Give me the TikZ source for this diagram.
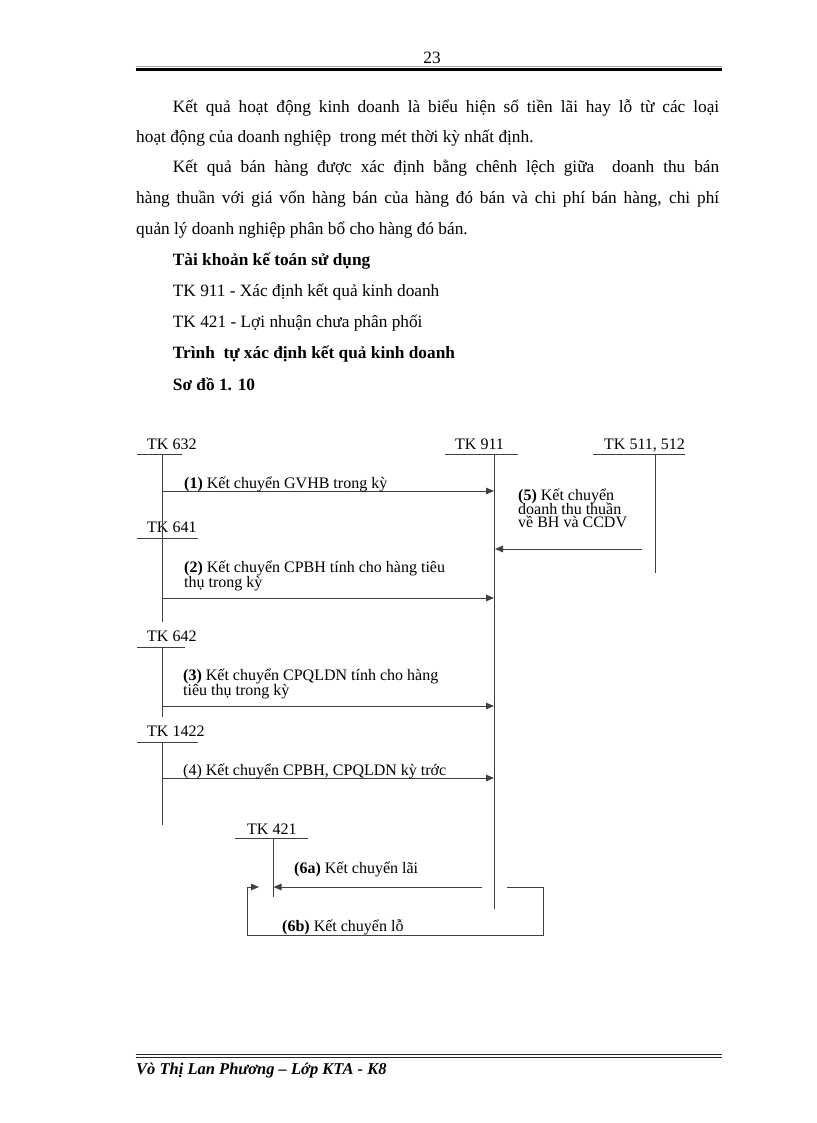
\documentclass[tikz,border=0pt]{standalone}
\usepackage{fontspec}
\setmainfont{Liberation Serif}
\usetikzlibrary{arrows.meta}
\begin{document}
\begin{tikzpicture}[x=1pt,y=-1pt,
  body/.style={anchor=base west, inner sep=0pt, font=\fontsize{17.3}{20}\selectfont},
  lab/.style={anchor=base west, inner sep=0pt, font=\fontsize{16}{18}\selectfont},
  acct/.style={line width=1pt, draw=black!75},
  arr/.style={line width=0.9pt, draw=black!75, -{Triangle[length=8pt,width=6.5pt]}},
]
\fill[white] (0,0) rectangle (816,1123);
\useasboundingbox (0,0) rectangle (816,1123);

% header
\node[anchor=base, inner sep=0pt, font=\fontsize{17.3}{20}\selectfont] (pg) at (432,63.5) {23};
\coordinate (hrl) at (135.5,69.3);
\coordinate (hrr) at (721.7,69.3);
\coordinate (hgl) at (135.5,66.6);
\coordinate (hgr) at (721.7,66.6);
\draw[black!35, line width=0.5pt] (hgl) -- (hgr);
\draw[line width=2.6pt] (hrl) -- (hrr);

% body text
\node[body] (p1) at (172.7,113) {\makebox[546.3pt][s]{Kết quả hoạt động kinh doanh là biểu hiện số tiền lãi hay lỗ từ các loại}};
\node[body] (p2) at (136,142.5) {hoạt động của doanh nghiệp\ \ trong mét thời kỳ nhất định.};
\node[body] (p3) at (172.7,173) {\makebox[546.3pt][s]{Kết quả bán hàng được xác định bằng chênh lệch giữa\ \ doanh thu bán}};
\node[body] (p4) at (136,204) {\makebox[583pt][s]{hàng thuần với giá vốn hàng bán của hàng đó bán và chi phí bán hàng, chi phí}};
\node[body] (p5) at (136,234.5) {quản lý doanh nghiệp phân bổ cho hàng đó bán.};
\node[body] (p6) at (172.7,265) {\bfseries Tài khoản kế toán sử dụng};
\node[body] (p7) at (172.7,296.5) {TK 911 - Xác định kết quả kinh doanh};
\node[body] (p8) at (172.7,327.5) {TK 421 - Lợi nhuận chưa phân phối};
\node[body] (p9) at (172.7,358.5) {\bfseries Trình\ \ tự xác định kết quả kinh doanh};
\node[body] (p10) at (172.7,390) {\bfseries Sơ đồ 1. 10};

% account labels
\node[lab] (tk632) at (147,449) {TK 632};
\node[lab] (tk641) at (147,532.7) {TK 641};
\node[lab] (tk642) at (147,641.7) {TK 642};
\node[lab] (tk1422) at (147,736.7) {TK 1422};
\node[lab] (tk911) at (455,449) {TK 911};
\node[lab] (tk511) at (604,449) {TK 511, 512};
\node[lab] (tk421) at (247,834) {TK 421};

% underlines
\coordinate (u632a) at (137,454); \coordinate (u632b) at (182,454);
\coordinate (u641a) at (137,538); \coordinate (u641b) at (198,538);
\coordinate (u642a) at (137,647); \coordinate (u642b) at (185,647);
\coordinate (u1422a) at (137,742); \coordinate (u1422b) at (198,742);
\coordinate (u911a) at (445,454); \coordinate (u911b) at (518,454);
\coordinate (u511a) at (593,454); \coordinate (u511b) at (685,454);
\coordinate (u421a) at (235,838); \coordinate (u421b) at (308,838);
\foreach \a/\b in {u632a/u632b,u641a/u641b,u642a/u642b,u1422a/u1422b,u911a/u911b,u511a/u511b,u421a/u421b}
  \draw[acct] (\a) -- (\b);

% account verticals
\coordinate (v632t) at (162,454); \coordinate (v632b) at (162,622);
\coordinate (v642t) at (162,647); \coordinate (v642b) at (162,717);
\coordinate (v1422t) at (162,742); \coordinate (v1422b) at (162,825);
\coordinate (v911t) at (494,454); \coordinate (v911b) at (494,909);
\coordinate (v511t) at (655,454); \coordinate (v511b) at (655,573);
\coordinate (v421t) at (273,838); \coordinate (v421b) at (273,897);
\draw[acct] (v632t) -- (v632b);
\draw[acct] (v642t) -- (v642b);
\draw[acct] (v1422t) -- (v1422b);
\draw[acct] (v911t) -- (v911b);
\draw[acct] (v511t) -- (v511b);
\draw[acct] (v421t) -- (v421b);

% arrows
\coordinate (a1s) at (162,491); \coordinate (a1e) at (494,491);
\coordinate (a2s) at (162,598); \coordinate (a2e) at (494,598);
\coordinate (a3s) at (162,706); \coordinate (a3e) at (494,706);
\coordinate (a4s) at (162,778); \coordinate (a4e) at (494,778);
\coordinate (a5s) at (642,549); \coordinate (a5e) at (495,549);
\coordinate (a6s) at (482,887); \coordinate (a6e) at (273.5,887);
\draw[arr] (a1s) -- (a1e);
\draw[arr] (a2s) -- (a2e);
\draw[arr] (a3s) -- (a3e);
\draw[arr] (a4s) -- (a4e);
\draw[arr] (a5s) -- (a5e);
\draw[arr] (a6s) -- (a6e);
\coordinate (b6s) at (507,887);
\coordinate (b6c1) at (543,887);
\coordinate (b6c2) at (543,935);
\coordinate (b6c3) at (247,935);
\coordinate (b6c4) at (247,887);
\coordinate (b6e) at (259,887);
\draw[arr] (b6s) -- (b6c1) -- (b6c2) -- (b6c3) -- (b6c4) -- (b6e);

% arrow labels
\node[lab] (l1) at (184,488) {\textbf{(1)} Kết chuyển GVHB trong kỳ};
\node[lab] (l2a) at (184,572) {\textbf{(2)} Kết chuyển CPBH tính cho hàng tiêu};
\node[lab] (l2b) at (184,587.5) {thụ trong kỳ};
\node[lab] (l3a) at (183,680.7) {\textbf{(3)} Kết chuyển CPQLDN tính cho hàng};
\node[lab] (l3b) at (183,695) {tiêu thụ trong kỳ};
\node[lab] (l4) at (183,775.7) {(4) Kết chuyển CPBH, CPQLDN kỳ trớc};
\node[lab] (l5a) at (518,500.7) {\textbf{(5)} Kết chuyển};
\node[lab] (l5b) at (518,514.3) {doanh thu thuần};
\node[lab] (l5c) at (518,527) {về BH và CCDV};
\node[lab] (l6a) at (294,873.3) {\textbf{(6a)} Kết chuyển lãi};
\node[lab] (l6b) at (282,931.7) {\textbf{(6b)} Kết chuyển lỗ};

% footer
\coordinate (f1l) at (135.5,1054.4); \coordinate (f1r) at (721.7,1054.4);
\coordinate (f2l) at (135.5,1057.4); \coordinate (f2r) at (721.7,1057.4);
\draw[line width=1.2pt, black!85] (f1l) -- (f1r);
\draw[line width=1.2pt, black!85] (f2l) -- (f2r);
\node[anchor=base west, inner sep=0pt, font=\fontsize{16.5}{19}\selectfont\bfseries\itshape] (foot) at (136,1074) {Vò Thị Lan Phương – Lớp KTA - K8};
\end{tikzpicture}
\end{document}
